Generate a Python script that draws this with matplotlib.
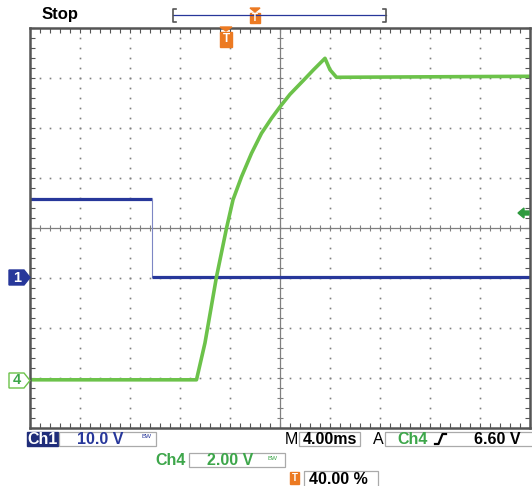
import matplotlib
matplotlib.use("Agg")
import matplotlib.pyplot as plt
from matplotlib.patches import Polygon, Rectangle
from matplotlib.transforms import Affine2D
import numpy as np

W, H = 532, 486

# traces, in screen divisions (10 x 8 grid, centre = 0,0)
ch1_t = [0.0, 2.45, 2.45, 10.0]
ch1_v = [0.59, 0.59, -0.97, -0.97]

ch4_t = [0.0, 3.34, 3.51, 3.74, 3.94, 4.07, 4.24, 4.44, 4.64, 4.84, 5.01,
         5.21, 5.48, 5.68, 5.91, 6.01, 6.14, 10.0]
ch4_v = [-3.03, -3.03, -2.29, -0.97, 0.0, 0.57, 1.03, 1.50, 1.90, 2.20, 2.43,
         2.68, 2.96, 3.17, 3.40, 3.17, 3.02, 3.04]

ch1_scale = "10.0 V"
ch4_scale = "2.00 V"
time_base = "4.00ms"
trig_level = "6.60 V"
trig_pos = "40.00 %"

BLUE = "#27379a"
GREEN = "#6cc24a"
GTEXT = "#3da64a"
ORANGE = "#ec7a22"
GRID = "#808080"

fig = plt.figure(figsize=(W / 100, H / 100), dpi=100)
ax = fig.add_axes([29.5 / W, 1 - 428.3 / H, 500 / W, 400 / H])
ax.set_xlim(0, 10)
ax.set_ylim(-4, 4)

# pixel transform (y down) for the screen furniture
pt = Affine2D().scale(1 / W, -1 / H).translate(0, 1) + fig.transFigure
font = "Liberation Sans"


def txt(x, y, s, color="black", size=11.5, ha="left", weight="bold"):
    fig.text(x / W, 1 - y / H, s, color=color, fontsize=size, ha=ha,
             va="center", family=font, weight=weight)


# graticule
dots = np.arange(-4, 4.01, 0.2)
for gx in [1, 2, 3, 4, 6, 7, 8, 9]:
    ax.plot(np.full_like(dots, gx), dots, ls="none", marker="s", ms=1.2,
            color=GRID, mec="none")
dots_x = np.arange(0, 10.01, 0.2)
for gy in [-3, -2, -1, 1, 2, 3]:
    ax.plot(dots_x, np.full_like(dots_x, gy), ls="none", marker="s", ms=1.2,
            color=GRID, mec="none")
ax.axhline(0, color=GRID, lw=0.9)
ax.axvline(5, color=GRID, lw=0.9)
ax.plot(dots_x, np.zeros_like(dots_x), ls="none", marker="|", ms=4.5,
        color=GRID, mew=0.8)
ax.plot(np.full_like(dots, 5), dots, ls="none", marker="_", ms=4.5,
        color=GRID, mew=0.8)

ax.set_xticks(np.arange(0, 10.01, 0.2))
ax.set_yticks(np.arange(-4, 4.01, 0.2))
ax.tick_params(direction="in", length=3.5, width=0.8, color="#555555",
               top=True, right=True, labelbottom=False, labelleft=False)
for sp in ax.spines.values():
    sp.set_color("#555555")
    sp.set_linewidth(1.8)

# traces
ax.plot(ch1_t[:2], ch1_v[:2], color=BLUE, lw=2.3, solid_capstyle="butt")
ax.plot(ch1_t[1:3], ch1_v[1:3], color="#7d86c4", lw=0.8)
ax.plot(ch1_t[2:], ch1_v[2:], color=BLUE, lw=2.3, solid_capstyle="butt")
ax.plot(ch4_t, ch4_v, color=GREEN, lw=2.6, solid_joinstyle="round")

# top: Stop + record bracket
txt(42, 14, "Stop", size=12)
fig.add_artist(plt.Line2D([173, 386], [15, 15], color=BLUE, lw=0.9, transform=pt))
for bx, d in [(173, 3), (386, -3)]:
    fig.add_artist(plt.Line2D([bx + d, bx, bx, bx + d], [9, 9, 22, 22],
                              color="#555555", lw=1.2, transform=pt))


def tmark(cx, top, h, w):
    fig.add_artist(Polygon([[cx - w / 2, top], [cx + w / 2, top], [cx, top + 4]],
                           closed=True, color=ORANGE, transform=pt))
    fig.add_artist(Rectangle((cx - w / 2, top + 5), w, h, color=ORANGE,
                             transform=pt))
    fig.text(cx / W, 1 - (top + 5 + h / 2) / H, "T", color="white",
             fontsize=7 if h < 12 else 8.5, ha="center", va="center",
             family=font, weight="bold")


tmark(255, 8, 10, 10)
tmark(226, 27, 15, 12)

# channel ground markers
fig.add_artist(Polygon([[9, 270], [24, 270], [30, 277.5], [24, 285], [9, 285]],
                       closed=True, color=BLUE, transform=pt))
txt(17, 277.5, "1", color="white", size=10.5, ha="center")
fig.add_artist(Polygon([[9, 373], [24, 373], [30, 380.5], [24, 388], [9, 388]],
                       closed=True, fc="white", ec=GREEN, lw=1.0, transform=pt))
txt(17, 380.5, "4", color=GTEXT, size=10.5, ha="center")

# trigger level arrow
fig.add_artist(Polygon([[518, 213], [524, 208], [524, 211], [529, 211],
                        [529, 215], [524, 215], [524, 218]],
                       closed=True, color="#2e9a3e", transform=pt))

# bottom readout
fig.add_artist(Rectangle((27, 432), 31, 14, color="#1f2d7a", transform=pt))
txt(42.5, 439, "Ch1", color="white", size=11.5, ha="center")
fig.add_artist(Rectangle((59, 432), 97, 14, fc="none", ec="#aaaaaa", lw=0.9,
                         transform=pt))
txt(100, 439, ch1_scale, color=BLUE, size=11.5, ha="center")
txt(147, 437, "BW", color=BLUE, size=4.5, ha="center", weight="normal")

txt(291, 439, "M", size=11.5, ha="center", weight="normal")
fig.add_artist(Rectangle((299, 432), 61, 14, fc="none", ec="#aaaaaa", lw=0.9,
                         transform=pt))
txt(330, 439, time_base, size=11.5, ha="center")
txt(378, 439, "A", size=11.5, ha="center", weight="normal")
fig.add_artist(Rectangle((385, 432), 150, 14, fc="none", ec="#aaaaaa", lw=0.9,
                         transform=pt))
txt(413, 439, "Ch4", color=GTEXT, size=11.5, ha="center")
# rising edge symbol
fig.add_artist(plt.Line2D([435, 438.5, 442.5, 446], [444, 444, 434, 434],
                          color="black", lw=1.6, transform=pt))
txt(497, 439, trig_level, size=11.5, ha="center")

txt(171, 460, "Ch4", color=GTEXT, size=11.5, ha="center")
fig.add_artist(Rectangle((189, 453), 96, 14, fc="none", ec="#aaaaaa", lw=0.9,
                         transform=pt))
txt(230, 460, ch4_scale, color=GTEXT, size=11.5, ha="center")
txt(273, 458, "BW", color=GTEXT, size=4.5, ha="center", weight="normal")

fig.add_artist(Rectangle((290, 472), 9, 12, color=ORANGE, transform=pt))
txt(294.5, 478, "T", color="white", size=7, ha="center")
fig.add_artist(Rectangle((304, 471), 74, 16, fc="none", ec="#aaaaaa", lw=0.9,
                         transform=pt))
txt(338, 479, trig_pos, size=11.5, ha="center")

fig.savefig("out.png", dpi=100)
